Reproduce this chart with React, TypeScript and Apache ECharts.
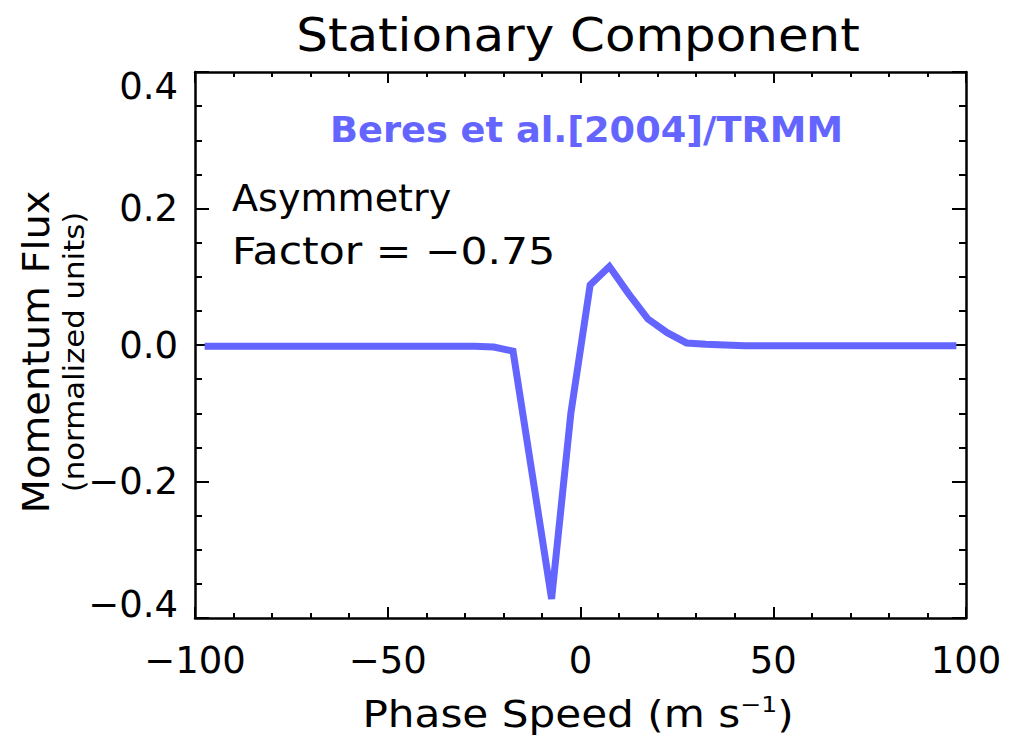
import React, { useEffect, useRef } from 'react';
import * as echarts from 'echarts';

const phaseSpeed = [
  -97.5, -92.5, -87.5, -82.5, -77.5, -72.5, -67.5, -62.5, -57.5, -52.5,
  -47.5, -42.5, -37.5, -32.5, -27.5, -22.5, -17.5, -12.5, -7.5, -2.5,
  2.5, 7.5, 12.5, 17.5, 22.5, 27.5, 32.5, 37.5, 42.5, 47.5,
  52.5, 57.5, 62.5, 67.5, 72.5, 77.5, 82.5, 87.5, 92.5, 97.5,
];
const momentumFlux = [
  -0.002, -0.002, -0.002, -0.002, -0.002, -0.002, -0.002, -0.002, -0.002, -0.002,
  -0.002, -0.002, -0.002, -0.002, -0.002, -0.003, -0.009, -0.19, -0.372, -0.1,
  0.088, 0.115, 0.075, 0.038, 0.018, 0.003, 0.001, 0, -0.001, -0.001,
  -0.001, -0.001, -0.001, -0.001, -0.001, -0.001, -0.001, -0.001, -0.001, -0.001,
];

const titleText = 'Stationary Component';
const sourceText = 'Beres et al.[2004]/TRMM';
const noteLine1 = 'Asymmetry';
const noteLine2 = 'Factor = \u22120.75';
const yName = 'Momentum Flux';
const ySubName = '(normalized units)';
const xNameRich = 'Phase Speed (m s{sup|\u22121})';

const FONT = 'DejaVu Sans';

function fmt(v: number, digits: number) {
  const s = Math.abs(v).toFixed(digits);
  return (v < 0 ? '\u2212' : '') + s;
}

export default function App() {
  const ref = useRef<HTMLDivElement>(null);
  useEffect(() => {
    const chart = echarts.init(ref.current!, null, { renderer: 'svg' });
    const black = '#000';
    const tickLine = { color: black, width: 2 };
    const xBase = {
      type: 'value',
      min: -100,
      max: 100,
      interval: 50,
      splitLine: { show: false },
      axisLine: { show: true, onZero: false, lineStyle: { color: black, width: 2.5 } },
      axisTick: { show: true, inside: true, length: 11, lineStyle: tickLine },
      minorTick: { show: true, splitNumber: 5, length: 5, lineStyle: tickLine },
    };
    const yBase = {
      type: 'value',
      min: -0.4,
      max: 0.4,
      interval: 0.2,
      splitLine: { show: false },
      axisLine: { show: true, onZero: false, lineStyle: { color: black, width: 2.5 } },
      axisTick: { show: true, inside: true, length: 14, lineStyle: tickLine },
      minorTick: { show: true, splitNumber: 4, length: 7, lineStyle: tickLine },
    };
    chart.setOption({
      animation: false,
      backgroundColor: '#fff',
      grid: { left: 195, right: 48, top: 72, bottom: 118, containLabel: false },
      xAxis: [
        {
          ...xBase,
          position: 'bottom',
          axisLabel: {
            fontSize: 37,
            fontFamily: FONT,
            color: black,
            margin: 24,
            formatter: (v: number) => fmt(v, 0),
          },
        },
        { ...xBase, position: 'top', axisLabel: { show: false } },
      ],
      yAxis: [
        {
          ...yBase,
          position: 'left',
          axisLabel: {
            fontSize: 37,
            fontFamily: FONT,
            color: black,
            margin: 17,
            lineHeight: 28,
            verticalAlignMaxLabel: 'top',
            verticalAlignMinLabel: 'bottom',
            formatter: (v: number) => fmt(v, 1),
          },
        },
        { ...yBase, position: 'right', axisLabel: { show: false } },
      ],
      series: [
        {
          type: 'line',
          xAxisIndex: 0,
          yAxisIndex: 0,
          data: phaseSpeed.map((x, i) => [x, momentumFlux[i]]),
          showSymbol: false,
          symbol: 'none',
          lineStyle: { color: '#6464ff', width: 7, join: 'miter' },
          itemStyle: { color: '#6464ff' },
        },
      ],
      graphic: [
        {
          type: 'text',
          x: 578,
          y: 35,
          scaleX: 1.085,
          style: {
            text: titleText,
            fontFamily: FONT,
            fontSize: 46,
            fill: black,
            textAlign: 'center',
            textVerticalAlign: 'middle',
          },
        },
        {
          type: 'text',
          x: 330,
          y: 130,
          scaleX: 1.05,
          style: {
            text: sourceText,
            fontFamily: FONT,
            fontWeight: 'bold',
            fontSize: 35,
            fill: '#6464ff',
            textAlign: 'left',
            textVerticalAlign: 'middle',
          },
        },
        {
          type: 'text',
          x: 232,
          y: 198,
          scaleX: 1.03,
          style: {
            text: noteLine1,
            fontFamily: FONT,
            fontSize: 37,
            fill: black,
            textAlign: 'left',
            textVerticalAlign: 'middle',
          },
        },
        {
          type: 'text',
          x: 232,
          y: 251,
          scaleX: 1.15,
          style: {
            text: noteLine2,
            fontFamily: FONT,
            fontSize: 37,
            fill: black,
            textAlign: 'left',
            textVerticalAlign: 'middle',
          },
        },
        {
          type: 'text',
          x: 36,
          y: 352,
          rotation: Math.PI / 2,
          scaleX: 1.05,
          style: {
            text: yName,
            fontFamily: FONT,
            fontSize: 38,
            fill: black,
            textAlign: 'center',
            textVerticalAlign: 'middle',
          },
        },
        {
          type: 'text',
          x: 74,
          y: 352,
          rotation: Math.PI / 2,
          scaleX: 1.1,
          style: {
            text: ySubName,
            fontFamily: FONT,
            fontSize: 28,
            fill: black,
            textAlign: 'center',
            textVerticalAlign: 'middle',
          },
        },
        {
          type: 'text',
          x: 578,
          y: 714,
          scaleX: 1.14,
          style: {
            text: xNameRich,
            fontFamily: FONT,
            fontSize: 37,
            fill: black,
            textAlign: 'center',
            textVerticalAlign: 'middle',
            rich: {
              sup: { fontFamily: FONT, fontSize: 22, padding: [0, 0, 18, 0], fill: black },
            },
          },
        },
      ],
    });
    return () => chart.dispose();
  }, []);
  return (
    <div
      ref={ref}
      style={{ position: 'fixed', left: 0, top: 0, width: 1014, height: 736, background: '#fff' }}
    />
  );
}
